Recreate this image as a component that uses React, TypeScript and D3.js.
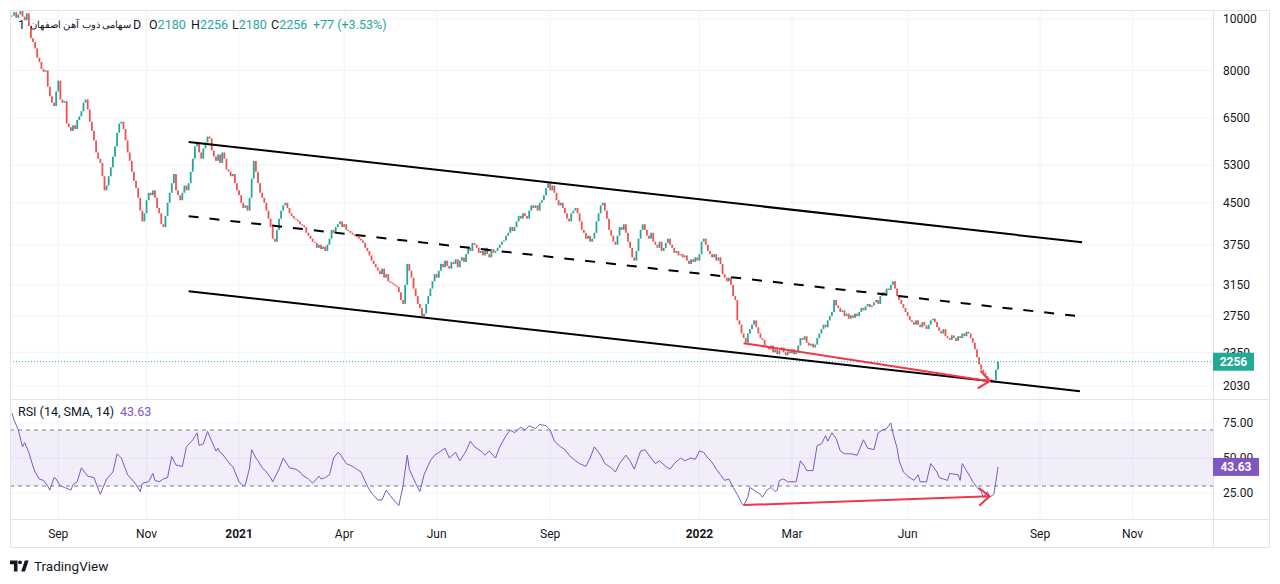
import React from 'react';
import * as d3 from 'd3';

// daily closes, one per trading bar (open = previous close)
const closes = [
  10150, 10300, 10050, 10200, 10350, 10100, 9950, 10250, 9700, 9200,
  9050, 8800, 8450, 8300, 8050, 7950, 8000, 7450, 7150, 6950,
  6850, 7300, 7650, 7050, 6950, 7000, 6350, 6250, 6150, 6300,
  6200, 6450, 6550, 6700, 6950, 7050, 6750, 6400, 6150, 5900,
  5600, 5450, 5350, 5050, 4750, 4850, 5050, 5250, 5500, 5750,
  6100, 6350, 6400, 6200, 5900, 5600, 5400, 5150, 4950, 4800,
  4600, 4350, 4150, 4300, 4550, 4700, 4650, 4750, 4600, 4400,
  4300, 4100, 4050, 4250, 4500, 4700, 4900, 5100, 4750, 4650,
  4550, 4700, 4850, 4750, 4900, 5150, 5450, 5750, 5850, 5600,
  5450, 5700, 5850, 6000, 5950, 5650, 5500, 5400, 5550, 5350,
  5600, 5450, 5200, 5150, 5050, 5100, 4900, 4750, 4650, 4500,
  4400, 4450, 4350, 4600, 5000, 5400, 5150, 4900, 4700, 4600,
  4500, 4350, 4200, 4050, 3850, 3800, 4000, 4200, 4350, 4450,
  4500, 4400, 4300, 4250, 4200, 4180, 4150, 4100, 4080, 4050,
  3950, 3900, 3850, 3800, 3780, 3700, 3750, 3680, 3720, 3650,
  3750, 3850, 4000, 3950, 4050, 4100, 4150, 4050, 4100, 4000,
  3980, 3950, 3920, 3900, 3880, 3850, 3820, 3780, 3700, 3650,
  3580, 3500, 3450, 3400, 3350, 3300, 3380, 3250, 3300, 3200,
  3180, 3160, 3140, 3120, 3050, 2950, 2900, 3150, 3450, 3350,
  3250, 3100, 3000, 2900, 2850, 2750, 2780, 2900, 3000, 3100,
  3200, 3300, 3250, 3350, 3450, 3400, 3500, 3420, 3380, 3480,
  3450, 3520, 3400, 3500, 3550, 3480, 3600, 3700, 3650, 3780,
  3750, 3700, 3620, 3650, 3580, 3700, 3600, 3550, 3680, 3620,
  3650, 3700, 3750, 3800, 3820, 3900, 3950, 4050, 3980, 4050,
  4150, 4250, 4200, 4300, 4250, 4200, 4350, 4450, 4400, 4450,
  4350, 4500, 4550, 4650, 4800, 4900, 4750, 4850, 4700, 4550,
  4450, 4500, 4400, 4300, 4200, 4150, 4300, 4350, 4400, 4300,
  4150, 4000, 3950, 3850, 3900, 3800, 3850, 3950, 4150, 4300,
  4450, 4500, 4350, 4200, 4000, 3900, 3800, 3750, 3900, 4050,
  4000, 4100, 3950, 3800, 3700, 3550, 3500, 3650, 3850, 4000,
  4100, 4000, 3900, 3850, 3950, 3800, 3750, 3700, 3800, 3650,
  3700, 3780, 3850, 3750, 3700, 3620, 3650, 3580, 3600, 3550,
  3580, 3500, 3450, 3520, 3480, 3550, 3500, 3600, 3800, 3850,
  3750, 3650, 3600, 3550, 3600, 3500, 3550, 3450, 3300, 3250,
  3200, 3250, 3150, 3000, 2950, 2700, 2650, 2550, 2500, 2450,
  2550, 2600, 2650, 2700, 2620, 2550, 2500, 2480, 2420, 2400,
  2380, 2420, 2350, 2380, 2330, 2370, 2400, 2350, 2320, 2360,
  2340, 2380, 2330, 2350, 2420, 2500, 2480, 2520, 2450, 2420,
  2440, 2400, 2430, 2500, 2550, 2600, 2650, 2620, 2700, 2750,
  2800, 2950, 2880, 2850, 2800, 2820, 2750, 2780, 2720, 2760,
  2730, 2780, 2750, 2800, 2850, 2820, 2870, 2900, 2860, 2880,
  2920, 2950, 2900, 3000, 3050, 3020, 3100, 3080, 3150, 3200,
  3100, 3000, 2950, 2900, 2850, 2800, 2750, 2700, 2680, 2650,
  2700, 2650, 2620, 2680, 2640, 2600, 2650, 2700, 2720, 2680,
  2620, 2580, 2550, 2600, 2520, 2500, 2480, 2530, 2500, 2470,
  2520, 2500, 2550, 2520, 2570, 2550, 2500, 2450, 2380, 2300,
  2230, 2180, 2150, 2120, 2100, 2090, 2060, 2080, 2179, 2256,
];

// RSI readings: [bar, value]
const rsiPoints: [number, number][] = [
  [0, 82], [1, 77], [3, 70], [5, 58], [6, 61], [8, 54], [10, 44], [11, 40], [13, 35], [15, 34],
  [17, 30], [18, 27], [20, 36], [21, 35], [23, 30], [25, 29], [28, 27], [29, 31], [31, 33], [33, 43],
  [36, 37], [39, 36], [42, 24], [45, 35], [48, 40], [50, 53], [52, 50], [55, 38], [58, 33], [59, 31],
  [61, 26], [62, 32], [65, 33], [67, 39], [68, 34], [70, 33], [72, 35], [74, 36], [76, 51], [78, 45],
  [81, 44], [83, 58], [86, 63], [88, 68], [89, 59], [91, 60], [93, 69], [95, 62], [97, 55], [98, 57],
  [99, 54], [100, 53], [104, 45], [105, 44], [108, 33], [110, 30], [111, 31], [113, 43], [114, 56], [116, 50],
  [117, 48], [119, 43], [121, 40], [123, 36], [124, 33], [127, 42], [129, 50], [132, 43], [135, 42], [137, 40],
  [138, 38], [141, 35], [143, 32], [146, 37], [147, 35], [149, 36], [151, 38], [153, 50], [155, 54], [156, 53],
  [159, 46], [162, 44], [164, 42], [166, 40], [169, 30], [171, 25], [174, 20], [176, 20], [178, 27], [180, 23],
  [181, 21], [184, 16], [186, 30], [188, 52], [189, 42], [192, 32], [194, 26], [196, 38], [199, 48], [201, 52],
  [204, 55], [206, 57], [208, 50], [211, 54], [213, 48], [216, 55], [218, 62], [220, 58], [223, 55], [225, 52],
  [227, 55], [230, 50], [232, 58], [235, 66], [237, 70], [239, 68], [242, 72], [244, 70], [246, 73], [249, 71],
  [251, 74], [254, 73], [256, 70], [258, 62], [261, 58], [263, 56], [265, 52], [268, 48], [270, 46], [273, 44],
  [275, 50], [277, 58], [280, 52], [282, 46], [285, 43], [287, 40], [289, 46], [292, 52], [294, 48], [296, 42],
  [299, 55], [301, 56], [304, 50], [306, 46], [308, 48], [311, 44], [313, 42], [315, 46], [318, 50], [320, 48],
  [323, 50], [325, 49], [327, 55], [329, 54], [331, 50], [333, 47], [335, 42], [337, 38], [339, 34], [341, 35],
  [343, 29], [345, 24], [347, 18], [348, 16], [350, 22], [351, 29], [353, 27], [356, 24], [357, 22], [359, 27],
  [361, 29], [363, 26], [364, 27], [365, 34], [367, 35], [369, 33], [370, 33], [373, 33], [375, 48], [377, 44],
  [378, 41], [381, 41], [383, 59], [385, 60], [387, 66], [388, 62], [390, 68], [392, 64], [394, 55], [396, 53],
  [399, 53], [402, 52], [405, 63], [407, 57], [410, 56], [412, 68], [414, 70], [416, 71], [418, 75], [419, 68],
  [421, 57], [422, 48], [424, 40], [426, 37], [429, 34], [431, 38], [432, 33], [435, 33], [437, 46], [438, 44],
  [440, 40], [441, 36], [445, 34], [446, 39], [450, 38], [451, 34], [452, 46], [454, 41], [456, 36], [457, 33],
  [459, 29], [461, 26], [462, 22], [463, 24], [464, 26], [465, 22], [467, 24], [468, 33], [469, 43.63],
];

const priceTicks = [10000, 8000, 6500, 5300, 4500, 3750, 3150, 2750, 2350, 2030];
const rsiTicks = [75, 50, 25];
const rsiBand = [70, 30];
const monthBars = [22, 64, 108, 158, 202, 256, 327, 371, 426, 489, 533];
const monthLabels = ['Sep', 'Nov', '2021', 'Apr', 'Jun', 'Sep', '2022', 'Mar', 'Jun', 'Sep', 'Nov'];

// drawings: [bar, price]
const channelUpper: [number, number][] = [[84, 5860], [509, 3790]];
const channelMid: [number, number][] = [[84, 4245], [507, 2750]];
const channelLower: [number, number][] = [[84, 3065], [508, 1985]];
const priceArrow: [number, number][] = [[348, 2445], [465, 2073]];
const rsiArrow: [number, number][] = [[348, 16.4], [465, 22.6]];

const symbolName = 'سهامی ذوب آهن اصفهان';
const lastOHLC = [2180, 2256, 2180, 2256];
const prevClose = 2179;
const lastRsi = 43.63;

const UP = '#26a69a';
const DOWN = '#ef5350';
const TEXT = '#131722';
const GRID = '#f0f3fa';
const BORDER = '#e0e3eb';
const FONT = "Roboto, 'Liberation Sans', sans-serif";

const x = d3.scaleLinear().domain([0, closes.length - 1]).range([12, 998]);
const y = d3.scaleLog().domain([2030, 10000]).range([386, 19]);
const yR = d3.scaleLinear().domain([30, 70]).range([486, 430]);

const arrowHead = (p0: [number, number], p1: [number, number]) => {
  const a = Math.atan2(p1[1] - p0[1], p1[0] - p0[0]) + Math.PI;
  const len = 14;
  const s = 0.7;
  const l = [p1[0] + len * Math.cos(a + s), p1[1] + len * Math.sin(a + s)];
  const r = [p1[0] + len * Math.cos(a - s), p1[1] + len * Math.sin(a - s)];
  return `M${l[0]},${l[1]}L${p1[0]},${p1[1]}L${r[0]},${r[1]}`;
};

const App: React.FC = () => {
  const seg = (pts: [number, number][], sy: (v: number) => number) =>
    pts.map(([b, v]) => [x(b), sy(v)] as [number, number]);

  const up = seg(channelUpper, y);
  const mid = seg(channelMid, y);
  const low = seg(channelLower, y);
  const pa = seg(priceArrow, y);
  const ra = seg(rsiArrow, yR);

  const rsiLine = d3.line<[number, number]>()
    .x(d => x(d[0]))
    .y(d => yR(d[1]))(rsiPoints) || '';

  const last = closes[closes.length - 1];
  const change = last - prevClose;
  const pct = (change / prevClose) * 100;

  return (
    <svg width={1280} height={584} style={{ position: 'absolute', left: 0, top: 0, background: '#fff' }}
      fontFamily={FONT}>
      <defs>
        <clipPath id="mainClip"><rect x={10} y={10} width={1203} height={389} /></clipPath>
        <clipPath id="rsiClip"><rect x={10} y={400} width={1203} height={119} /></clipPath>
      </defs>
      <rect x={0} y={0} width={1280} height={584} fill="#fff" />

      {/* grid */}
      {monthBars.map((b, i) => (
        <g key={'vg' + i}>
          <line x1={x(b)} x2={x(b)} y1={10} y2={399} stroke={GRID} />
          <line x1={x(b)} x2={x(b)} y1={400} y2={519} stroke={GRID} />
        </g>
      ))}
      {priceTicks.map(t => (
        <line key={'hg' + t} x1={10} x2={1213} y1={y(t)} y2={y(t)} stroke={GRID} />
      ))}
      {rsiTicks.map(t => (
        <line key={'rg' + t} x1={10} x2={1213} y1={yR(t)} y2={yR(t)} stroke={GRID} />
      ))}

      {/* candles */}
      <g clipPath="url(#mainClip)">
        {closes.map((c, i) => {
          const o = i === 0 ? c : closes[i - 1];
          const top = y(Math.max(o, c));
          const bot = y(Math.min(o, c));
          return (
            <rect key={i} x={x(i) - 0.9} y={top} width={1.8} height={Math.max(1, bot - top)}
              fill={c >= o ? UP : DOWN} />
          );
        })}
        <line x1={10} x2={1213} y1={y(last)} y2={y(last)} stroke={UP} strokeDasharray="1 2" />
        <line x1={up[0][0]} y1={up[0][1]} x2={up[1][0]} y2={up[1][1]} stroke="#000" strokeWidth={2} />
        <line x1={mid[0][0]} y1={mid[0][1]} x2={mid[1][0]} y2={mid[1][1]} stroke="#000" strokeWidth={2}
          strokeDasharray="10 11" />
        <line x1={low[0][0]} y1={low[0][1]} x2={low[1][0]} y2={low[1][1]} stroke="#000" strokeWidth={2} />
        <line x1={pa[0][0]} y1={pa[0][1]} x2={pa[1][0]} y2={pa[1][1]} stroke="#f23645" strokeWidth={2} />
        <path d={arrowHead(pa[0], pa[1])} fill="none" stroke="#f23645" strokeWidth={2} />
      </g>

      {/* RSI pane */}
      <g clipPath="url(#rsiClip)">
        <rect x={10} y={yR(rsiBand[0])} width={1203} height={yR(rsiBand[1]) - yR(rsiBand[0])}
          fill="rgba(126,87,194,0.1)" />
        {rsiBand.map(t => (
          <line key={'rb' + t} x1={10} x2={1213} y1={yR(t)} y2={yR(t)} stroke="#787b86"
            strokeDasharray="4 4" />
        ))}
        <path d={rsiLine} fill="none" stroke="#7e57c2" strokeWidth={1} />
        <line x1={ra[0][0]} y1={ra[0][1]} x2={ra[1][0]} y2={ra[1][1]} stroke="#f23645" strokeWidth={2} />
        <path d={arrowHead(ra[0], ra[1])} fill="none" stroke="#f23645" strokeWidth={2} />
      </g>

      {/* borders */}
      <rect x={10.5} y={10.5} width={1259} height={537} fill="none" stroke={BORDER} />
      <line x1={1213.5} x2={1213.5} y1={10} y2={547} stroke={BORDER} />
      <line x1={10} x2={1269} y1={399.5} y2={399.5} stroke={BORDER} />
      <line x1={10} x2={1269} y1={519.5} y2={519.5} stroke={BORDER} />

      {/* price axis */}
      {priceTicks.map(t => (
        <text key={'pt' + t} x={1223} y={y(t)} dy="0.35em" fontSize={12} fill={TEXT}>{t}</text>
      ))}
      <rect x={1213} y={y(last) - 9} width={41} height={18} fill="#22ab94" />
      <text x={1233.5} y={y(last)} dy="0.35em" fontSize={12} fontWeight={700} fill="#fff"
        textAnchor="middle">{last}</text>

      {rsiTicks.map(t => (
        <text key={'rt' + t} x={1223} y={yR(t)} dy="0.35em" fontSize={12} fill={TEXT}>{t.toFixed(2)}</text>
      ))}
      <rect x={1213} y={yR(lastRsi) - 9} width={46} height={18} fill="#7e57c2" />
      <text x={1236} y={yR(lastRsi)} dy="0.35em" fontSize={12} fontWeight={700} fill="#fff"
        textAnchor="middle">{lastRsi.toFixed(2)}</text>

      {/* time axis */}
      {monthBars.map((b, i) => (
        <text key={'tl' + i} x={x(b)} y={534} dy="0.35em" textAnchor="middle" fontSize={12}
          fill={TEXT} fontWeight={/^\d+$/.test(monthLabels[i]) ? 700 : 400}>{monthLabels[i]}</text>
      ))}

      {/* legend */}
      <g fontSize={12.5}>
        <text x={18} y={25} dy="0.35em" fill={TEXT}>1</text>
        <text x={131} y={25} dy="0.35em" fill={TEXT} fontSize={9.6} direction="rtl"
          textAnchor="start">{symbolName}</text>
        <text x={133} y={25} dy="0.35em" fill={TEXT}>D</text>
        <text x={149} y={25} dy="0.35em" fill={TEXT}>O<tspan fill={UP}>{lastOHLC[0]}</tspan></text>
        <text x={191} y={25} dy="0.35em" fill={TEXT}>H<tspan fill={UP}>{lastOHLC[1]}</tspan></text>
        <text x={232} y={25} dy="0.35em" fill={TEXT}>L<tspan fill={UP}>{lastOHLC[2]}</tspan></text>
        <text x={271} y={25} dy="0.35em" fill={TEXT}>C<tspan fill={UP}>{lastOHLC[3]}</tspan></text>
        <text x={313} y={25} dy="0.35em" fill={UP}>{`+${change} (+${pct.toFixed(2)}%)`}</text>
      </g>
      <g fontSize={12.5}>
        <text x={18} y={412} dy="0.35em" fill={TEXT}>RSI (14, SMA, 14)</text>
        <text x={120} y={412} dy="0.35em" fill="#7e57c2">{lastRsi.toFixed(2)}</text>
      </g>

      {/* TradingView mark */}
      <g fill={TEXT}>
        <path d="M10 560.5h7.5v11h-3.6v-7.2H10z" />
        <circle cx={20} cy={562.3} r={1.9} />
        <path d="M21.2 571.5l3.6-11h3.8l-3.6 11z" />
        <text x={34} y={566} dy="0.35em" fontSize={13.5}>TradingView</text>
      </g>
    </svg>
  );
};

export default App;
